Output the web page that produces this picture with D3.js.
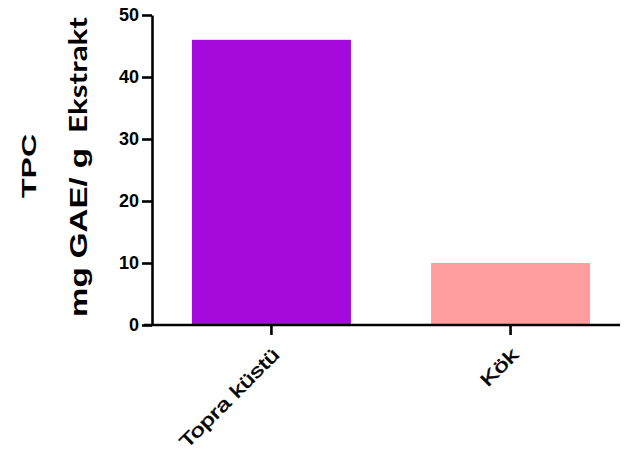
<!DOCTYPE html>
<html>
<head>
<meta charset="utf-8">
<script src="https://cdn.jsdelivr.net/npm/d3@7"></script>
<style>
  html, body { margin: 0; padding: 0; background: #fff; }
  svg { display: block; }
</style>
</head>
<body>
<svg id="chart" width="624" height="452"></svg>
<script>
// Total phenolic content per plant part
const categories = ["Topra küstü", "Kök"];
const values = [46, 10];
const barColors = ["#a40adc", "#ff9e9c"];
const yTicks = [0, 10, 20, 30, 40, 50];
const labelLengths = [132, 45];

const svg = d3.select("#chart");
const axisX = 152, axisY = 325;
const sans = "Liberation Sans, Arial, sans-serif";

const x = d3.scaleBand()
  .domain(categories)
  .range([axisX, 630])
  .paddingInner(0.335)
  .paddingOuter(0.167);

const y = d3.scaleLinear().domain([0, 50]).range([axisY, 15]);

// bars
svg.selectAll("rect.bar")
  .data(categories)
  .join("rect")
  .attr("class", "bar")
  .attr("x", d => x(d))
  .attr("width", x.bandwidth())
  .attr("y", (d, i) => y(values[i]))
  .attr("height", (d, i) => y(0) - y(values[i]))
  .attr("fill", (d, i) => barColors[i]);

// y axis
const yAxis = svg.append("g")
  .attr("transform", `translate(${axisX},0)`)
  .call(d3.axisLeft(y).tickValues(yTicks).tickSize(10).tickPadding(3).tickSizeOuter(0));
yAxis.select(".domain").attr("stroke", "#000").attr("stroke-width", 2.6);
yAxis.selectAll(".tick line").attr("stroke", "#000").attr("stroke-width", 2.6);
yAxis.selectAll(".tick text")
  .attr("font-family", sans)
  .attr("font-size", 18)
  .attr("font-weight", "bold")
  .attr("fill", "#000");

// x axis
const xAxis = svg.append("g")
  .attr("transform", `translate(0,${axisY})`)
  .call(d3.axisBottom(x).tickSize(10).tickSizeOuter(0).tickFormat(""));
xAxis.select(".domain").attr("d", "M144,0H620").attr("stroke", "#000").attr("stroke-width", 2.6);
xAxis.selectAll(".tick line").attr("stroke", "#000").attr("stroke-width", 2.6);

// rotated category labels (regular face with a light outline for weight)
xAxis.selectAll(".tick")
  .append("text")
  .attr("transform", "translate(9,31) rotate(-45)")
  .attr("text-anchor", "end")
  .attr("font-family", sans)
  .attr("font-size", 18.5)
  .attr("textLength", (d, i) => labelLengths[i])
  .attr("lengthAdjust", "spacingAndGlyphs")
  .attr("fill", "#000")
  .attr("stroke", "#000")
  .attr("stroke-width", 0.45)
  .text(d => d);

// y axis title
const title = svg.append("g")
  .attr("font-weight", "bold")
  .attr("fill", "#000");
title.append("text")
  .attr("transform", "translate(36,166) rotate(-90)")
  .attr("text-anchor", "middle")
  .attr("font-family", sans)
  .attr("font-size", 21)
  .attr("textLength", 64)
  .attr("lengthAdjust", "spacingAndGlyphs")
  .text("TPC");
title.append("text")
  .attr("transform", "translate(87,317) rotate(-90)")
  .attr("font-family", sans)
  .attr("font-size", 24)
  .attr("textLength", 169)
  .attr("lengthAdjust", "spacingAndGlyphs")
  .text("mg GAE/ g");
title.append("text")
  .attr("transform", "translate(87,133) rotate(-90)")
  .attr("font-family", "Lato, Open Sans, sans-serif")
  .attr("font-size", 25)
  .attr("textLength", 116)
  .attr("lengthAdjust", "spacingAndGlyphs")
  .text("Ekstrakt");
</script>
</body>
</html>
